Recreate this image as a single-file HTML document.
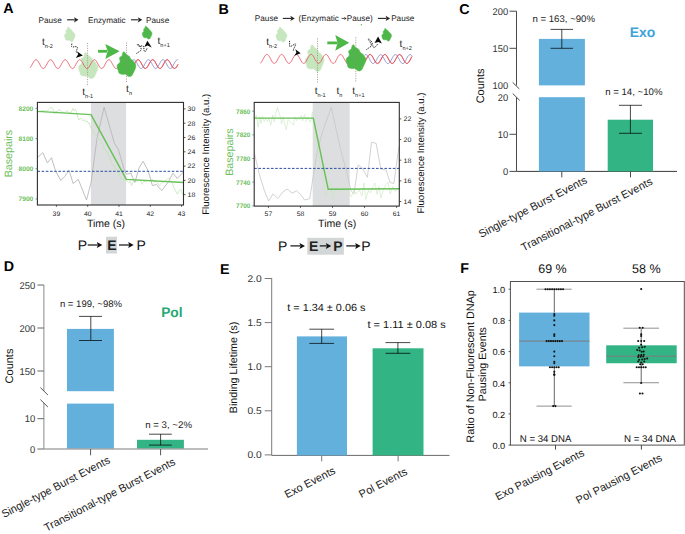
<!DOCTYPE html>
<html><head><meta charset="utf-8"><style>
html,body{margin:0;padding:0;background:#fff;width:685px;height:534px;overflow:hidden}
svg{display:block;font-family:"Liberation Sans", sans-serif;text-rendering:geometricPrecision}
</style></head><body>
<svg width="685" height="534" viewBox="0 0 685 534">
<rect width="685" height="534" fill="#fff"/>
<text x="8.30" y="12.60" font-size="14.3" fill="#000" text-anchor="middle" font-weight="bold" >A</text>
<text x="223.70" y="13.60" font-size="14.3" fill="#000" text-anchor="middle" font-weight="bold" >B</text>
<text x="464.40" y="13.80" font-size="14.3" fill="#000" text-anchor="middle" font-weight="bold" >C</text>
<text x="8.90" y="270.50" font-size="14.3" fill="#000" text-anchor="middle" font-weight="bold" >D</text>
<text x="224.80" y="273.90" font-size="14.3" fill="#000" text-anchor="middle" font-weight="bold" >E</text>
<text x="464.60" y="273.20" font-size="14.3" fill="#000" text-anchor="middle" font-weight="bold" >F</text>
<text x="50.15" y="22.70" font-size="8.2" fill="#1a1a1a" text-anchor="middle" font-weight="normal" >Pause</text>
<line x1="67.10" y1="19.80" x2="74.80" y2="19.80" stroke="#222" stroke-width="1.1" />
<path d="M78.5,19.8 L74.0,17.2 L75.0,19.8 L74.0,22.4Z" fill="#222"/>
<text x="106.85" y="22.70" font-size="8.2" fill="#1a1a1a" text-anchor="middle" font-weight="normal" >Enzymatic</text>
<line x1="131.00" y1="19.80" x2="138.60" y2="19.80" stroke="#222" stroke-width="1.1" />
<path d="M142.3,19.8 L137.8,17.2 L138.8,19.8 L137.8,22.4Z" fill="#222"/>
<text x="157.65" y="22.70" font-size="8.2" fill="#1a1a1a" text-anchor="middle" font-weight="normal" >Pause</text>
<path d="M68.4,27.0 Q68.8,27.2 69.0,27.6 Q69.4,28.0 69.5,28.7 Q70.2,28.7 70.6,29.2 Q71.2,29.4 71.5,29.9 Q71.9,30.4 71.9,31.0 Q72.4,31.2 72.6,31.7 Q73.2,31.8 73.5,32.2 Q74.0,32.7 74.1,33.3 Q74.6,33.6 74.8,34.2 Q75.2,35.0 75.0,35.9 Q75.0,36.5 74.7,36.9 Q74.6,37.7 74.1,38.2 Q74.0,39.0 73.5,39.5 Q73.5,40.2 73.0,40.8 Q72.6,41.3 71.9,41.5 Q71.2,41.6 70.6,41.3 Q70.1,41.1 69.9,40.6 Q69.5,40.4 69.3,40.0 Q68.7,40.3 68.0,40.2 Q67.4,40.3 66.8,40.0 Q66.1,40.0 65.7,39.5 Q65.2,38.8 65.3,38.0 Q64.8,37.4 64.8,36.6 Q64.4,35.9 64.6,35.1 Q64.6,34.7 64.9,34.4 Q65.3,33.9 65.9,33.7 Q65.9,33.1 66.4,32.6 Q65.9,31.9 66.0,31.1 Q65.8,30.8 65.9,30.5 Q66.2,30.0 66.8,29.9 Q67.0,29.3 67.5,29.0 Q67.4,28.4 67.7,27.9 Q67.7,27.5 68.0,27.2 Q68.2,27.0 68.4,27.0Z" fill="#c6e6be" stroke="#c6e6be" stroke-width="0.6" stroke-linejoin="round"/>
<path d="M85.7,52.7 Q86.4,53.0 86.8,53.7 Q87.6,54.5 87.8,55.6 Q89.0,55.7 89.8,56.5 Q90.8,56.9 91.4,57.8 Q92.1,58.7 92.1,59.8 Q93.0,60.2 93.5,61.1 Q94.4,61.2 95.1,62.0 Q95.9,62.7 96.1,63.9 Q97.1,64.4 97.5,65.5 Q98.2,66.9 97.8,68.4 Q97.8,69.5 97.2,70.3 Q97.1,71.6 96.1,72.6 Q96.0,73.9 95.1,74.9 Q95.0,76.2 94.1,77.1 Q93.4,78.1 92.1,78.4 Q90.9,78.6 89.8,78.0 Q88.9,77.6 88.5,76.8 Q87.7,76.5 87.4,75.8 Q86.3,76.4 85.1,76.1 Q83.9,76.3 82.8,75.8 Q81.6,75.7 80.8,74.9 Q80.0,73.7 80.1,72.3 Q79.1,71.2 79.1,69.7 Q78.5,68.5 78.8,67.1 Q78.9,66.3 79.4,65.8 Q80.1,64.9 81.1,64.6 Q81.2,63.5 82.0,62.7 Q81.3,61.5 81.4,60.1 Q81.1,59.5 81.1,58.8 Q81.8,58.0 82.8,57.8 Q83.2,56.8 84.2,56.2 Q84.0,55.2 84.5,54.3 Q84.5,53.6 85.1,53.0 Q85.4,52.7 85.7,52.7Z" fill="#c6e6be" stroke="#c6e6be" stroke-width="0.6" stroke-linejoin="round"/>
<polyline points="30.0,67.8 30.5,67.3 31.0,66.5 31.5,65.7 32.0,64.8 32.5,63.8 33.0,62.9 33.5,62.0 34.0,61.3 34.5,60.6 35.0,60.1 35.5,59.8 36.0,59.7 36.5,59.8 37.0,60.1 37.5,60.6 38.0,61.2 38.5,62.0 39.0,62.8 39.5,63.8 40.0,64.7 40.5,65.6 41.0,66.5 41.5,67.2 42.0,67.8 42.5,68.2 43.0,68.5 43.5,68.5 44.0,68.3 44.5,68.0 44.9,67.4 45.4,66.7 45.9,65.9 46.4,65.0 46.9,64.1 47.4,63.1 47.9,62.3 48.4,61.4 48.9,60.8 49.4,60.2 49.9,59.9 50.4,59.7 50.9,59.7 51.4,60.0 51.9,60.4 52.4,61.0 52.9,61.8 53.4,62.6 53.9,63.5 54.4,64.5 54.9,65.4 55.4,66.3 55.9,67.0 56.4,67.7 56.9,68.1 57.4,68.4 57.9,68.5 58.4,68.4 58.9,68.1 59.4,67.6 59.9,66.9 60.4,66.1 60.9,65.3 61.4,64.3 61.9,63.4 62.4,62.5 62.9,61.6 63.4,60.9 63.9,60.3 64.4,59.9 64.9,59.7 65.4,59.7 65.9,59.9 66.4,60.3 66.9,60.8 67.4,61.6 67.9,62.4 68.4,63.3 68.9,64.2 69.4,65.2 69.9,66.0 70.4,66.8 70.9,67.5 71.4,68.0 71.9,68.4 72.4,68.5 72.9,68.4 73.4,68.2 73.9,67.7 74.4,67.1 74.8,66.4 75.3,65.5 75.8,64.6 76.3,63.6 76.8,62.7 77.3,61.9 77.8,61.1 78.3,60.5 78.8,60.0 79.3,59.8 79.8,59.7 80.3,59.8 80.8,60.2 81.3,60.7 81.8,61.4 82.3,62.2 82.8,63.0 83.3,64.0 83.8,64.9 84.3,65.8 84.8,66.6 85.3,67.3 85.8,67.9 86.3,68.3 86.8,68.5 87.3,68.5 87.8,68.3 88.3,67.9 88.8,67.3 89.3,66.6 89.8,65.7 90.3,64.8 90.8,63.9 91.3,62.9 91.8,62.1 92.3,61.3 92.8,60.6 93.3,60.1 93.8,59.8 94.3,59.7 94.8,59.8 95.3,60.1 95.8,60.5 96.3,61.2 96.8,61.9 97.3,62.8 97.8,63.7 98.3,64.7 98.8,65.6 99.3,66.4 99.8,67.2 100.3,67.8 100.8,68.2 101.3,68.4 101.8,68.5 102.3,68.3 102.8,68.0 103.3,67.4 103.8,66.8 104.2,65.9 104.7,65.1 105.2,64.1 105.7,63.2 106.2,62.3 106.7,61.5 107.2,60.8 107.7,60.2 108.2,59.9 108.7,59.7 109.2,59.7 109.7,60.0 110.2,60.4 110.7,61.0 111.2,61.7 111.7,62.6 112.2,63.5 112.7,64.4 113.2,65.4 113.7,66.2 114.2,67.0 114.7,67.6 115.2,68.1 115.7,68.4 116.2,68.5 116.7,68.4 117.2,68.1 117.7,67.6 118.2,66.9 118.7,66.2 119.2,65.3 119.7,64.4 120.2,63.4 120.7,62.5 121.2,61.7 121.7,60.9 122.2,60.4 122.7,60.0 123.2,59.7 123.7,59.7 124.2,59.9 124.7,60.3 125.2,60.8 125.7,61.5 126.2,62.3 126.7,63.2 127.2,64.2 127.7,65.1 128.2,66.0 128.7,66.8 129.2,67.5 129.7,68.0 130.2,68.3 130.7,68.5 131.2,68.4 131.7,68.2 132.2,67.7 132.7,67.1 133.2,66.4 133.6,65.5 134.1,64.6 134.6,63.7 135.1,62.7 135.6,61.9 136.1,61.1 136.6,60.5 137.1,60.0 137.6,59.8 138.1,59.7 138.6,59.8 139.1,60.2 139.6,60.7 140.1,61.3 140.6,62.1 141.1,63.0 141.6,63.9 142.1,64.9 142.6,65.8 143.1,66.6 143.6,67.3 144.1,67.9 144.6,68.3 145.1,68.5 145.6,68.5 146.1,68.3 146.6,67.9 147.1,67.3 147.6,66.6 148.1,65.8 148.6,64.8 149.1,63.9 149.6,63.0 150.1,62.1 150.6,61.3 151.1,60.6 151.6,60.1 152.1,59.8 152.6,59.7 153.1,59.8 153.6,60.1 154.1,60.5 154.6,61.1 155.1,61.9 155.6,62.8 156.1,63.7 156.6,64.6 157.1,65.6 157.6,66.4 158.1,67.2 158.6,67.8 159.1,68.2 159.6,68.4 160.1,68.5 160.6,68.3 161.1,68.0 161.6,67.5 162.1,66.8 162.6,66.0 163.1,65.1 163.5,64.1 164.0,63.2 164.5,62.3 165.0,61.5 165.5,60.8 166.0,60.3 166.5,59.9 167.0,59.7 167.5,59.7 168.0,60.0 168.5,60.4 169.0,61.0 169.5,61.7 170.0,62.5 170.5,63.5 171.0,64.4 171.5,65.3 172.0,66.2 172.5,67.0 173.0,67.6 173.5,68.1 174.0,68.4 174.5,68.5 175.0,68.4 175.5,68.1 176.0,67.6 176.5,67.0 177.0,66.2 177.5,65.3 178.0,64.4" fill="none" stroke="#e4525f" stroke-width="0.85" stroke-linejoin="round" opacity="1"/>
<polyline points="133.0,60.0 133.5,59.8 134.0,59.7 134.5,59.9 135.0,60.2 135.5,60.7 136.0,61.4 136.5,62.2 137.0,63.1 137.5,64.0 137.9,64.9 138.4,65.8 138.9,66.6 139.4,67.3 139.9,67.9 140.4,68.3 140.9,68.5 141.4,68.5 141.9,68.3 142.4,67.9 142.9,67.3 143.4,66.6 143.9,65.8 144.4,64.9 144.9,64.0 145.4,63.0 145.9,62.2 146.4,61.4 146.8,60.7 147.3,60.2 147.8,59.8 148.3,59.7 148.8,59.8 149.3,60.0 149.8,60.4 150.3,61.0 150.8,61.8 151.3,62.6 151.8,63.5 152.3,64.5 152.8,65.4 153.3,66.3 153.8,67.0 154.3,67.7 154.8,68.1 155.3,68.4 155.7,68.5 156.2,68.4 156.7,68.1 157.2,67.6 157.7,67.0 158.2,66.2 158.7,65.3 159.2,64.4 159.7,63.5 160.2,62.6 160.7,61.7 161.2,61.0 161.7,60.4 162.2,60.0 162.7,59.7 163.2,59.7 163.7,59.9 164.2,60.2 164.6,60.7 165.1,61.4 165.6,62.2 166.1,63.1 166.6,64.0 167.1,65.0 167.6,65.9 168.1,66.7 168.6,67.4 169.1,67.9 169.6,68.3 170.1,68.5 170.6,68.5 171.1,68.3 171.6,67.9 172.1,67.3 172.6,66.6 173.1,65.8 173.5,64.9 174.0,63.9 174.5,63.0 175.0,62.1 175.5,61.3 176.0,60.7 176.5,60.2 177.0,59.8 177.5,59.7 178.0,59.8" fill="none" stroke="#6f76bd" stroke-width="0.85" stroke-linejoin="round" opacity="0.85"/>
<polyline points="133.0,66.6 133.5,65.8 134.0,64.9 134.5,64.0 135.0,63.0 135.5,62.2 136.0,61.4 136.5,60.7 137.0,60.2 137.5,59.9 137.9,59.7 138.4,59.8 138.9,60.0 139.4,60.4 139.9,61.0 140.4,61.8 140.9,62.6 141.4,63.5 141.9,64.5 142.4,65.4 142.9,66.3 143.4,67.0 143.9,67.6 144.4,68.1 144.9,68.4 145.4,68.5 145.9,68.4 146.4,68.1 146.8,67.6 147.3,67.0 147.8,66.2 148.3,65.3 148.8,64.4 149.3,63.5 149.8,62.6 150.3,61.7 150.8,61.0 151.3,60.4 151.8,60.0 152.3,59.8 152.8,59.7 153.3,59.9 153.8,60.2 154.3,60.7 154.8,61.4 155.3,62.2 155.7,63.1 156.2,64.0 156.7,65.0 157.2,65.8 157.7,66.7 158.2,67.4 158.7,67.9 159.2,68.3 159.7,68.5 160.2,68.5 160.7,68.3 161.2,67.9 161.7,67.3 162.2,66.6 162.7,65.8 163.2,64.9 163.7,63.9 164.2,63.0 164.6,62.1 165.1,61.3 165.6,60.7 166.1,60.2 166.6,59.8 167.1,59.7 167.6,59.8 168.1,60.0 168.6,60.5 169.1,61.1 169.6,61.8 170.1,62.7 170.6,63.6 171.1,64.5 171.6,65.4 172.1,66.3 172.6,67.0 173.1,67.7 173.5,68.1 174.0,68.4 174.5,68.5 175.0,68.4 175.5,68.1 176.0,67.6 176.5,67.0 177.0,66.2 177.5,65.3 178.0,64.4" fill="none" stroke="#e4525f" stroke-width="0.85" stroke-linejoin="round" opacity="1"/>
<path d="M124.0,51.8 Q124.6,52.1 125.0,52.8 Q125.8,53.5 126.0,54.6 Q127.1,54.7 127.9,55.5 Q128.9,55.8 129.5,56.7 Q130.2,57.5 130.2,58.6 Q131.1,59.0 131.5,59.8 Q132.4,60.0 133.0,60.7 Q133.9,61.4 134.1,62.5 Q135.0,63.1 135.4,64.1 Q136.0,65.5 135.7,66.9 Q135.7,67.9 135.1,68.7 Q135.0,70.0 134.1,70.9 Q134.0,72.2 133.0,73.1 Q133.0,74.3 132.1,75.2 Q131.4,76.2 130.2,76.5 Q129.0,76.7 127.9,76.1 Q127.1,75.8 126.6,74.9 Q125.9,74.6 125.6,74.0 Q124.5,74.5 123.3,74.3 Q122.2,74.5 121.1,74.0 Q120.0,73.9 119.1,73.1 Q118.3,72.0 118.4,70.6 Q117.5,69.5 117.5,68.2 Q116.9,67.0 117.2,65.7 Q117.3,64.9 117.8,64.4 Q118.4,63.5 119.5,63.2 Q119.6,62.1 120.4,61.4 Q119.6,60.2 119.8,58.9 Q119.4,58.3 119.5,57.7 Q120.1,56.9 121.1,56.7 Q121.5,55.7 122.4,55.2 Q122.2,54.2 122.7,53.4 Q122.8,52.6 123.3,52.1 Q123.6,51.8 124.0,51.8Z" fill="#4db749" stroke="#4db749" stroke-width="0.6" stroke-linejoin="round"/>
<path d="M145.9,26.1 Q146.2,26.3 146.4,26.6 Q146.8,27.0 146.9,27.6 Q147.5,27.6 147.9,28.0 Q148.4,28.2 148.7,28.7 Q149.1,29.1 149.1,29.6 Q149.5,29.8 149.7,30.3 Q150.2,30.3 150.5,30.7 Q151.0,31.1 151.1,31.7 Q151.5,31.9 151.7,32.5 Q152.1,33.2 151.9,33.9 Q151.9,34.5 151.6,34.9 Q151.5,35.5 151.1,36.0 Q151.0,36.7 150.5,37.1 Q150.5,37.8 150.1,38.2 Q149.7,38.8 149.1,38.9 Q148.5,39.0 147.9,38.7 Q147.5,38.5 147.2,38.1 Q146.9,37.9 146.7,37.6 Q146.2,37.9 145.5,37.7 Q144.9,37.9 144.4,37.6 Q143.8,37.5 143.4,37.1 Q143.0,36.6 143.0,35.8 Q142.6,35.3 142.6,34.6 Q142.2,34.0 142.4,33.3 Q142.4,32.9 142.7,32.6 Q143.0,32.2 143.6,32.0 Q143.6,31.5 144.0,31.1 Q143.6,30.5 143.7,29.8 Q143.5,29.5 143.6,29.2 Q143.9,28.8 144.4,28.7 Q144.6,28.1 145.1,27.9 Q145.0,27.4 145.2,26.9 Q145.3,26.5 145.5,26.3 Q145.7,26.1 145.9,26.1Z" fill="#4db749" stroke="#4db749" stroke-width="0.6" stroke-linejoin="round"/>
<line x1="87.60" y1="43.00" x2="87.60" y2="86.30" stroke="#a08878" stroke-width="0.8" stroke-dasharray="1.1 1.3"/>
<line x1="126.50" y1="42.50" x2="126.50" y2="82.80" stroke="#a08878" stroke-width="0.8" stroke-dasharray="1.1 1.3"/>
<line x1="98.00" y1="51.30" x2="107.00" y2="51.30" stroke="#4db848" stroke-width="2.8" />
<path d="M119.6,51.2 L105.3,43.9 L107.6,51.2 L105.3,59Z" fill="#4db848"/>
<path d="M71.8,43.6 L71.6,46.5 C72.5,48 76,45.5 77.3,47.2 C78,48.8 75.5,50.5 76.5,52.5" fill="none" stroke="#1a1a1a" stroke-width="0.95" stroke-dasharray="1.3 0.9"/>
<path d="M82.9,55.4 L76.9,51.3 L78.2,54.3 L75.8,58.0Z" fill="#0a0a0a"/>
<path d="M136.4,53.5 L140.5,50.8 C142.5,49 139.5,44.5 137.6,44.2 C136.4,44.5 139,47.5 142.3,45.6 C144.8,46 143.2,51 144.8,51.6 C146.2,51.5 146.8,49.5 147,48" fill="none" stroke="#1a1a1a" stroke-width="0.95" stroke-dasharray="1.3 0.9"/>
<path d="M147.4,40.8 L151.8,47.5 L147.5,45.6 L144.3,47.1Z" fill="#0a0a0a"/>
<text x="42" y="45" font-size="10.2" fill="#222">t<tspan font-size="5.6" dy="2.8">n-2</tspan></text>
<text x="82.2" y="94.9" font-size="10.2" fill="#222">t<tspan font-size="5.6" dy="2.8">n-1</tspan></text>
<text x="126.1" y="91.9" font-size="10.2" fill="#222">t<tspan font-size="5.6" dy="2.8">n</tspan></text>
<text x="157.5" y="43.9" font-size="10.2" fill="#222">t<tspan font-size="5.6" dy="2.8">n+1</tspan></text>
<rect x="90.90" y="102.40" width="35.20" height="102.60" fill="#dcdee0" />
<polyline points="37.4,157.7 42.8,152.6 47.4,162.9 51.5,157.7 55.6,171.1 60.8,180.4 64.9,176.3 69.0,170.1 73.1,183.5 78.3,179.4 86.5,200.0 91.1,182.5 96.9,139.2 104.1,107.2 110.3,128.9 114.4,143.3 118.4,149.5 124.6,171.1 126.6,174.2 130.8,173.2 134.9,182.5 139.0,168.0 143.1,161.2 148.3,171.1 152.4,185.6 156.5,184.5 161.7,190.7 167.9,182.5 173.0,173.2 177.2,178.4 183.4,172.2" fill="none" stroke="#b8b8b8" stroke-width="0.9" stroke-linejoin="round" />
<polyline points="37.9,111.4 39.6,111.8 41.4,110.9 43.1,110.5 44.9,111.2 46.6,110.9 47.9,110.1 49.7,108.3 51.4,107.0 53.2,110.1 54.5,114.0 55.8,111.4 57.6,111.8 59.3,109.2 61.1,111.4 62.8,112.3 65.0,112.3 67.2,110.5 69.0,113.1 70.3,114.0 71.6,111.4 72.9,108.3 74.2,110.9 75.5,109.2 76.8,112.3 77.7,117.1 79.0,120.1 80.3,118.4 81.7,118.8 83.0,121.0 84.7,119.7 86.0,121.9 87.4,121.0 88.7,123.6 89.5,122.8 90.4,127.1 91.7,128.9 93.9,132.9 96.0,134.5 97.9,138.1 99.8,139.5 101.8,143.3 103.0,144.5 104.4,148.6 106.3,150.5 108.3,155.1 110.0,158.5 111.6,163.0 113.2,165.0 114.9,168.2 116.5,169.0 118.2,170.9 119.5,175.0 120.8,178.7 122.5,178.5 124.1,180.0 125.5,180.3 126.8,180.8 128.5,182.5 130.3,181.2 131.6,185.6 132.9,182.1 134.6,180.3 136.4,181.2 138.1,180.8 140.3,179.9 142.1,184.3 143.8,181.2 146.0,182.1 147.8,180.3 150.0,180.8 152.1,179.0 153.9,182.1 155.6,181.6 157.8,183.0 159.2,185.6 160.9,183.4 162.7,182.1 164.8,181.2 167.0,179.4 168.8,178.1 170.5,180.3 172.3,182.1 173.6,187.3 175.4,190.4 177.5,194.3 179.3,190.4 181.0,189.5 182.8,194.8" fill="none" stroke="#bfe2b2" stroke-width="0.7" stroke-linejoin="round" />
<polyline points="37.4,111.4 91.0,114.6 126.3,179.4 183.5,182.5" fill="none" stroke="#66c055" stroke-width="1.4" stroke-linejoin="round" />
<line x1="37.40" y1="171.30" x2="183.50" y2="171.30" stroke="#2b4fa3" stroke-width="1" stroke-dasharray="2.6 1.6"/>
<rect x="37.4" y="102.4" width="146.1" height="102.6" fill="none" stroke="#2e2e2e" stroke-width="1.1"/>
<line x1="35.60" y1="108.40" x2="37.40" y2="108.40" stroke="#666" stroke-width="0.8" />
<text x="33.30" y="110.75" font-size="6.6" fill="#6cc05c" text-anchor="end" font-weight="bold" textLength="14.8" lengthAdjust="spacingAndGlyphs" >8200</text>
<line x1="35.60" y1="138.58" x2="37.40" y2="138.58" stroke="#666" stroke-width="0.8" />
<text x="33.30" y="140.93" font-size="6.6" fill="#6cc05c" text-anchor="end" font-weight="bold" textLength="14.8" lengthAdjust="spacingAndGlyphs" >8100</text>
<line x1="35.60" y1="168.76" x2="37.40" y2="168.76" stroke="#666" stroke-width="0.8" />
<text x="33.30" y="171.11" font-size="6.6" fill="#6cc05c" text-anchor="end" font-weight="bold" textLength="14.8" lengthAdjust="spacingAndGlyphs" >8000</text>
<line x1="35.60" y1="198.94" x2="37.40" y2="198.94" stroke="#666" stroke-width="0.8" />
<text x="33.30" y="201.29" font-size="6.6" fill="#6cc05c" text-anchor="end" font-weight="bold" textLength="14.8" lengthAdjust="spacingAndGlyphs" >7900</text>
<line x1="183.50" y1="108.90" x2="185.50" y2="108.90" stroke="#2e2e2e" stroke-width="0.8" />
<text x="187.60" y="111.25" font-size="6.6" fill="#222" text-anchor="start" font-weight="normal" textLength="7.8" lengthAdjust="spacingAndGlyphs" >30</text>
<line x1="183.50" y1="123.20" x2="185.50" y2="123.20" stroke="#2e2e2e" stroke-width="0.8" />
<text x="187.60" y="125.55" font-size="6.6" fill="#222" text-anchor="start" font-weight="normal" textLength="7.8" lengthAdjust="spacingAndGlyphs" >28</text>
<line x1="183.50" y1="137.50" x2="185.50" y2="137.50" stroke="#2e2e2e" stroke-width="0.8" />
<text x="187.60" y="139.85" font-size="6.6" fill="#222" text-anchor="start" font-weight="normal" textLength="7.8" lengthAdjust="spacingAndGlyphs" >26</text>
<line x1="183.50" y1="151.80" x2="185.50" y2="151.80" stroke="#2e2e2e" stroke-width="0.8" />
<text x="187.60" y="154.15" font-size="6.6" fill="#222" text-anchor="start" font-weight="normal" textLength="7.8" lengthAdjust="spacingAndGlyphs" >24</text>
<line x1="183.50" y1="166.10" x2="185.50" y2="166.10" stroke="#2e2e2e" stroke-width="0.8" />
<text x="187.60" y="168.45" font-size="6.6" fill="#222" text-anchor="start" font-weight="normal" textLength="7.8" lengthAdjust="spacingAndGlyphs" >22</text>
<line x1="183.50" y1="180.40" x2="185.50" y2="180.40" stroke="#2e2e2e" stroke-width="0.8" />
<text x="187.60" y="182.75" font-size="6.6" fill="#222" text-anchor="start" font-weight="normal" textLength="7.8" lengthAdjust="spacingAndGlyphs" >20</text>
<line x1="183.50" y1="194.70" x2="185.50" y2="194.70" stroke="#2e2e2e" stroke-width="0.8" />
<text x="187.60" y="197.05" font-size="6.6" fill="#222" text-anchor="start" font-weight="normal" textLength="7.8" lengthAdjust="spacingAndGlyphs" >18</text>
<line x1="56.40" y1="205.00" x2="56.40" y2="206.80" stroke="#2e2e2e" stroke-width="0.8" />
<text x="56.40" y="216.30" font-size="6.6" fill="#222" text-anchor="middle" font-weight="normal" textLength="7.6" lengthAdjust="spacingAndGlyphs" >39</text>
<line x1="87.70" y1="205.00" x2="87.70" y2="206.80" stroke="#2e2e2e" stroke-width="0.8" />
<text x="87.70" y="216.30" font-size="6.6" fill="#222" text-anchor="middle" font-weight="normal" textLength="7.6" lengthAdjust="spacingAndGlyphs" >40</text>
<line x1="119.00" y1="205.00" x2="119.00" y2="206.80" stroke="#2e2e2e" stroke-width="0.8" />
<text x="119.00" y="216.30" font-size="6.6" fill="#222" text-anchor="middle" font-weight="normal" textLength="7.6" lengthAdjust="spacingAndGlyphs" >41</text>
<line x1="150.30" y1="205.00" x2="150.30" y2="206.80" stroke="#2e2e2e" stroke-width="0.8" />
<text x="150.30" y="216.30" font-size="6.6" fill="#222" text-anchor="middle" font-weight="normal" textLength="7.6" lengthAdjust="spacingAndGlyphs" >42</text>
<line x1="181.60" y1="205.00" x2="181.60" y2="206.80" stroke="#2e2e2e" stroke-width="0.8" />
<text x="181.60" y="216.30" font-size="6.6" fill="#222" text-anchor="middle" font-weight="normal" textLength="7.6" lengthAdjust="spacingAndGlyphs" >43</text>
<text x="106.00" y="226.60" font-size="10.5" fill="#111" text-anchor="middle" font-weight="normal" textLength="38.2" lengthAdjust="spacingAndGlyphs" >Time (s)</text>
<text transform="translate(12.3,153.6) rotate(-90)" font-size="10.7" fill="#6cc05c" text-anchor="middle">Basepairs</text>
<text transform="translate(208.6,154.25) rotate(-90)" font-size="9.6" fill="#111" text-anchor="middle">Fluorescence Intensity (a.u.)</text>
<rect x="106.00" y="236.70" width="11.00" height="16.80" fill="#d3d6d6" />
<text x="82.40" y="249.50" font-size="14" fill="#111" text-anchor="middle" font-weight="normal" >P</text>
<line x1="87.70" y1="245.00" x2="97.60" y2="245.00" stroke="#111" stroke-width="1.2" />
<path d="M102.3,245.0 L96.8,242.0 L97.8,245.0 L96.8,248.0Z" fill="#111"/>
<text x="111.90" y="249.50" font-size="14" fill="#222" text-anchor="middle" font-weight="bold" >E</text>
<line x1="119.00" y1="245.00" x2="129.00" y2="245.00" stroke="#111" stroke-width="1.2" />
<path d="M133.7,245.0 L128.2,242.0 L129.2,245.0 L128.2,248.0Z" fill="#111"/>
<text x="141.20" y="249.50" font-size="14" fill="#111" text-anchor="middle" font-weight="normal" >P</text>
<text x="266.45" y="21.30" font-size="8.2" fill="#1a1a1a" text-anchor="middle" font-weight="normal" >Pause</text>
<line x1="282.80" y1="18.40" x2="291.10" y2="18.40" stroke="#222" stroke-width="1.1" />
<path d="M294.8,18.4 L290.3,15.8 L291.3,18.4 L290.3,21.0Z" fill="#222"/>
<text x="318.70" y="21.30" font-size="8.2" fill="#1a1a1a" text-anchor="middle" font-weight="normal" >(Enzymatic</text>
<line x1="341.60" y1="18.40" x2="344.70" y2="18.40" stroke="#222" stroke-width="0.8" />
<path d="M346.7,18.4 L343.9,16.7 L344.9,18.4 L343.9,20.1Z" fill="#222"/>
<text x="359.70" y="21.30" font-size="8.2" fill="#1a1a1a" text-anchor="middle" font-weight="normal" >Pause)</text>
<line x1="377.90" y1="18.40" x2="386.40" y2="18.40" stroke="#222" stroke-width="1.1" />
<path d="M390.1,18.4 L385.6,15.8 L386.6,18.4 L385.6,21.0Z" fill="#222"/>
<text x="402.75" y="21.30" font-size="8.2" fill="#1a1a1a" text-anchor="middle" font-weight="normal" >Pause</text>
<path d="M280.0,27.0 Q280.4,27.2 280.6,27.6 Q281.1,28.0 281.2,28.7 Q281.9,28.8 282.4,29.2 Q282.9,29.4 283.3,30.0 Q283.7,30.5 283.7,31.1 Q284.2,31.3 284.4,31.8 Q285.0,31.9 285.3,32.4 Q285.8,32.8 285.9,33.5 Q286.5,33.8 286.7,34.4 Q287.1,35.2 286.9,36.1 Q286.9,36.7 286.5,37.2 Q286.5,38.0 285.9,38.5 Q285.9,39.3 285.3,39.9 Q285.3,40.6 284.8,41.1 Q284.4,41.7 283.7,41.9 Q283.0,42.0 282.4,41.7 Q281.8,41.5 281.6,41.0 Q281.2,40.8 281.0,40.4 Q280.4,40.7 279.7,40.6 Q279.0,40.7 278.4,40.4 Q277.7,40.3 277.2,39.9 Q276.7,39.2 276.8,38.3 Q276.3,37.7 276.3,36.9 Q275.9,36.2 276.1,35.4 Q276.1,34.9 276.5,34.6 Q276.8,34.1 277.4,33.9 Q277.5,33.2 277.9,32.8 Q277.5,32.1 277.6,31.3 Q277.4,30.9 277.4,30.6 Q277.8,30.1 278.4,30.0 Q278.6,29.4 279.1,29.0 Q279.0,28.5 279.3,27.9 Q279.4,27.5 279.7,27.2 Q279.8,27.0 280.0,27.0Z" fill="#c6e6be" stroke="#c6e6be" stroke-width="0.6" stroke-linejoin="round"/>
<path d="M312.2,44.7 Q312.9,45.1 313.2,45.8 Q314.0,46.6 314.2,47.7 Q315.3,47.9 316.1,48.7 Q317.1,49.1 317.6,50.0 Q318.3,50.9 318.3,52.0 Q319.2,52.4 319.6,53.3 Q320.6,53.6 321.2,54.3 Q322.0,55.1 322.2,56.3 Q323.1,56.9 323.5,57.9 Q324.2,59.4 323.8,61.0 Q323.9,62.1 323.2,62.9 Q323.1,64.3 322.2,65.3 Q322.1,66.6 321.2,67.7 Q321.1,69.0 320.3,69.9 Q319.6,71.0 318.3,71.3 Q317.2,71.5 316.1,70.9 Q315.2,70.5 314.8,69.6 Q314.1,69.3 313.8,68.6 Q312.7,69.1 311.6,68.9 Q310.4,69.1 309.3,68.6 Q308.2,68.5 307.4,67.7 Q306.6,66.4 306.7,64.9 Q305.8,63.8 305.8,62.3 Q305.2,61.0 305.5,59.6 Q305.6,58.8 306.1,58.3 Q306.7,57.3 307.7,57.0 Q307.8,55.9 308.6,55.0 Q307.8,53.8 308.0,52.3 Q307.7,51.7 307.7,51.1 Q308.4,50.2 309.3,50.0 Q309.7,48.9 310.7,48.3 Q310.5,47.3 311.0,46.4 Q311.0,45.6 311.6,45.0 Q311.8,44.7 312.2,44.7Z" fill="#c6e6be" stroke="#c6e6be" stroke-width="0.6" stroke-linejoin="round"/>
<polyline points="260.3,63.2 260.8,62.8 261.3,62.2 261.8,61.5 262.3,60.6 262.8,59.7 263.3,58.7 263.8,57.8 264.3,56.9 264.8,56.1 265.3,55.4 265.8,54.9 266.3,54.6 266.8,54.4 267.3,54.5 267.8,54.7 268.3,55.2 268.8,55.8 269.3,56.5 269.8,57.4 270.3,58.3 270.8,59.3 271.3,60.2 271.8,61.1 272.3,61.9 272.8,62.5 273.3,63.0 273.8,63.3 274.3,63.4 274.8,63.3 275.3,63.0 275.8,62.5 276.3,61.9 276.8,61.1 277.3,60.2 277.8,59.3 278.3,58.3 278.8,57.4 279.3,56.5 279.8,55.8 280.3,55.2 280.8,54.7 281.3,54.5 281.8,54.4 282.3,54.6 282.8,54.9 283.3,55.4 283.8,56.1 284.3,56.9 284.8,57.8 285.3,58.8 285.7,59.7 286.2,60.6 286.7,61.5 287.2,62.2 287.7,62.8 288.2,63.2 288.7,63.4 289.2,63.4 289.7,63.2 290.2,62.8 290.7,62.2 291.2,61.5 291.7,60.7 292.2,59.8 292.7,58.8 293.2,57.9 293.7,57.0 294.2,56.2 294.7,55.5 295.2,54.9 295.7,54.6 296.2,54.4 296.7,54.4 297.2,54.7 297.7,55.1 298.2,55.7 298.7,56.5 299.2,57.3 299.7,58.2 300.2,59.2 300.7,60.1 301.2,61.0 301.7,61.8 302.2,62.5 302.7,63.0 303.2,63.3 303.7,63.4 304.2,63.3 304.7,63.0 305.2,62.6 305.7,61.9 306.2,61.1 306.7,60.3 307.2,59.3 307.7,58.4 308.2,57.4 308.7,56.6 309.2,55.8 309.7,55.2 310.2,54.7 310.7,54.5 311.2,54.4 311.7,54.5 312.2,54.9 312.7,55.4 313.2,56.0 313.7,56.8 314.2,57.7 314.7,58.7 315.2,59.6 315.7,60.6 316.2,61.4 316.7,62.1 317.2,62.7 317.7,63.1 318.2,63.4 318.7,63.4 319.2,63.2 319.7,62.8 320.2,62.3 320.7,61.6 321.2,60.8 321.7,59.8 322.2,58.9 322.7,57.9 323.2,57.0 323.7,56.2 324.2,55.5 324.7,55.0 325.2,54.6 325.7,54.4 326.2,54.4 326.7,54.7 327.2,55.1 327.7,55.7 328.2,56.4 328.7,57.3 329.2,58.2 329.7,59.1 330.2,60.1 330.7,61.0 331.2,61.8 331.7,62.4 332.2,62.9 332.7,63.3 333.2,63.4 333.7,63.3 334.2,63.1 334.7,62.6 335.2,62.0 335.7,61.2 336.1,60.3 336.6,59.4 337.1,58.5 337.6,57.5 338.1,56.6 338.6,55.9 339.1,55.2 339.6,54.8 340.1,54.5 340.6,54.4 341.1,54.5 341.6,54.8 342.1,55.3 342.6,56.0 343.1,56.8 343.6,57.7 344.1,58.6 344.6,59.6 345.1,60.5 345.6,61.3 346.1,62.1 346.6,62.7 347.1,63.1 347.6,63.4 348.1,63.4 348.6,63.2 349.1,62.9 349.6,62.3 350.1,61.6 350.6,60.8 351.1,59.9 351.6,59.0 352.1,58.0 352.6,57.1 353.1,56.3 353.6,55.6 354.1,55.0 354.6,54.6 355.1,54.4 355.6,54.4 356.1,54.6 356.6,55.0 357.1,55.6 357.6,56.3 358.1,57.2 358.6,58.1 359.1,59.1 359.6,60.0 360.1,60.9 360.6,61.7 361.1,62.4 361.6,62.9 362.1,63.2 362.6,63.4 363.1,63.3 363.6,63.1 364.1,62.6 364.6,62.0 365.1,61.3 365.6,60.4 366.1,59.5 366.6,58.5 367.1,57.6 367.6,56.7 368.1,55.9 368.6,55.3 369.1,54.8 369.6,54.5 370.1,54.4 370.6,54.5 371.1,54.8 371.6,55.3 372.1,55.9 372.6,56.7 373.1,57.6 373.6,58.5 374.1,59.5 374.6,60.4 375.1,61.3 375.6,62.0 376.1,62.6 376.6,63.1 377.1,63.3 377.6,63.4 378.1,63.2 378.6,62.9 379.1,62.4 379.6,61.7 380.1,60.9 380.6,60.0 381.1,59.0 381.6,58.1 382.1,57.2 382.6,56.3 383.1,55.6 383.6,55.0 384.1,54.6 384.6,54.4 385.1,54.4 385.6,54.6 386.1,55.0 386.6,55.6 387.0,56.3 387.5,57.1 388.0,58.0 388.5,59.0 389.0,59.9 389.5,60.8 390.0,61.6 390.5,62.3 391.0,62.9 391.5,63.2 392.0,63.4 392.5,63.4 393.0,63.1 393.5,62.7 394.0,62.1 394.5,61.3 395.0,60.5 395.5,59.6 396.0,58.6 396.5,57.7 397.0,56.8 397.5,56.0 398.0,55.3 398.5,54.8 399.0,54.5 399.5,54.4 400.0,54.5 400.5,54.8 401.0,55.2 401.5,55.9 402.0,56.7 402.5,57.5 403.0,58.5 403.5,59.4 404.0,60.4 404.5,61.2 405.0,62.0 405.5,62.6 406.0,63.1 406.5,63.3 407.0,63.4 407.5,63.3 408.0,62.9 408.5,62.4 409.0,61.8 409.5,61.0 410.0,60.1 410.5,59.1 411.0,58.2 411.5,57.2 412.0,56.4" fill="none" stroke="#e4525f" stroke-width="0.85" stroke-linejoin="round" opacity="1"/>
<polyline points="364.4,55.5 364.9,55.0 365.4,54.7 365.9,54.6 366.4,54.7 366.9,55.0 367.4,55.5 367.9,56.1 368.4,56.9 368.9,57.8 369.4,58.7 369.9,59.7 370.3,60.6 370.8,61.4 371.3,62.2 371.8,62.8 372.3,63.3 372.8,63.5 373.3,63.6 373.8,63.5 374.3,63.1 374.8,62.6 375.3,62.0 375.8,61.2 376.3,60.3 376.8,59.4 377.3,58.4 377.8,57.5 378.3,56.7 378.8,55.9 379.3,55.3 379.8,54.9 380.3,54.7 380.8,54.6 381.3,54.8 381.8,55.1 382.2,55.6 382.7,56.3 383.2,57.1 383.7,58.0 384.2,59.0 384.7,59.9 385.2,60.8 385.7,61.7 386.2,62.4 386.7,62.9 387.2,63.4 387.7,63.6 388.2,63.6 388.7,63.4 389.2,63.0 389.7,62.5 390.2,61.8 390.7,61.0 391.2,60.1 391.7,59.1 392.2,58.2 392.7,57.3 393.2,56.4 393.7,55.7 394.1,55.2 394.6,54.8 395.1,54.6 395.6,54.6 396.1,54.8 396.6,55.2 397.1,55.8 397.6,56.5 398.1,57.4 398.6,58.3 399.1,59.2 399.6,60.2 400.1,61.1 400.6,61.9 401.1,62.5 401.6,63.1 402.1,63.4 402.6,63.6 403.1,63.6 403.6,63.3 404.1,62.9 404.6,62.3 405.1,61.6 405.6,60.7 406.1,59.8 406.5,58.8 407.0,57.9 407.5,57.0 408.0,56.2 408.5,55.6 409.0,55.1 409.5,54.7 410.0,54.6 410.5,54.7 411.0,54.9 411.5,55.4 412.0,56.0" fill="none" stroke="#6f76bd" stroke-width="0.85" stroke-linejoin="round" opacity="0.85"/>
<polyline points="364.4,62.5 364.9,61.8 365.4,61.0 365.9,60.1 366.4,59.1 366.9,58.2 367.4,57.3 367.9,56.5 368.4,55.7 368.9,55.2 369.4,54.8 369.9,54.6 370.3,54.6 370.8,54.8 371.3,55.2 371.8,55.8 372.3,56.5 372.8,57.4 373.3,58.3 373.8,59.2 374.3,60.1 374.8,61.0 375.3,61.9 375.8,62.5 376.3,63.1 376.8,63.4 377.3,63.6 377.8,63.6 378.3,63.3 378.8,62.9 379.3,62.3 379.8,61.6 380.3,60.7 380.8,59.8 381.3,58.9 381.8,57.9 382.2,57.0 382.7,56.2 383.2,55.6 383.7,55.1 384.2,54.7 384.7,54.6 385.2,54.7 385.7,54.9 386.2,55.4 386.7,56.0 387.2,56.7 387.7,57.6 388.2,58.5 388.7,59.5 389.2,60.4 389.7,61.3 390.2,62.1 390.7,62.7 391.2,63.2 391.7,63.5 392.2,63.6 392.7,63.5 393.2,63.2 393.7,62.8 394.1,62.1 394.6,61.4 395.1,60.5 395.6,59.6 396.1,58.6 396.6,57.7 397.1,56.8 397.6,56.1 398.1,55.4 398.6,55.0 399.1,54.7 399.6,54.6 400.1,54.7 400.6,55.0 401.1,55.5 401.6,56.2 402.1,57.0 402.6,57.8 403.1,58.8 403.6,59.7 404.1,60.6 404.6,61.5 405.1,62.2 405.6,62.8 406.1,63.3 406.5,63.5 407.0,63.6 407.5,63.4 408.0,63.1 408.5,62.6 409.0,61.9 409.5,61.1 410.0,60.2 410.5,59.3 411.0,58.3 411.5,57.4 412.0,56.6" fill="none" stroke="#e4525f" stroke-width="0.85" stroke-linejoin="round" opacity="1"/>
<path d="M353.3,44.7 Q354.0,45.0 354.3,45.7 Q355.2,46.5 355.4,47.7 Q356.6,47.8 357.5,48.6 Q358.5,49.0 359.1,49.9 Q359.8,50.8 359.8,51.9 Q360.7,52.3 361.2,53.2 Q362.2,53.4 362.8,54.2 Q363.7,54.9 363.9,56.1 Q364.9,56.7 365.3,57.7 Q366.0,59.2 365.6,60.7 Q365.6,61.8 365.0,62.7 Q364.8,64.0 363.9,65.0 Q363.8,66.3 362.8,67.3 Q362.7,68.6 361.9,69.6 Q361.1,70.6 359.8,70.9 Q358.6,71.1 357.5,70.5 Q356.5,70.1 356.1,69.2 Q355.3,68.9 355.0,68.2 Q353.9,68.8 352.6,68.5 Q351.4,68.8 350.3,68.2 Q349.1,68.1 348.2,67.3 Q347.4,66.1 347.5,64.6 Q346.5,63.5 346.5,62.1 Q345.9,60.8 346.2,59.4 Q346.3,58.6 346.8,58.1 Q347.5,57.1 348.6,56.8 Q348.7,55.7 349.5,54.9 Q348.7,53.6 348.9,52.2 Q348.5,51.6 348.6,51.0 Q349.2,50.1 350.3,49.9 Q350.7,48.9 351.7,48.3 Q351.5,47.3 352.0,46.4 Q352.1,45.6 352.6,45.0 Q352.9,44.7 353.3,44.7Z" fill="#4db749" stroke="#4db749" stroke-width="0.6" stroke-linejoin="round"/>
<path d="M385.4,28.4 Q385.7,28.6 385.9,28.9 Q386.3,29.3 386.4,29.8 Q387.0,29.9 387.4,30.3 Q387.9,30.4 388.2,30.9 Q388.6,31.3 388.6,31.8 Q389.0,32.0 389.2,32.5 Q389.7,32.5 390.0,32.9 Q390.5,33.3 390.6,33.8 Q391.0,34.1 391.2,34.6 Q391.6,35.3 391.4,36.0 Q391.4,36.6 391.1,37.0 Q391.0,37.6 390.6,38.1 Q390.5,38.7 390.0,39.2 Q390.0,39.8 389.6,40.3 Q389.2,40.8 388.6,40.9 Q388.0,41.0 387.4,40.7 Q387.0,40.5 386.7,40.1 Q386.4,40.0 386.2,39.6 Q385.7,39.9 385.0,39.8 Q384.4,39.9 383.9,39.6 Q383.3,39.6 382.9,39.2 Q382.5,38.6 382.5,37.9 Q382.1,37.4 382.1,36.7 Q381.8,36.1 381.9,35.4 Q381.9,35.0 382.2,34.8 Q382.5,34.3 383.1,34.2 Q383.1,33.6 383.5,33.2 Q383.1,32.7 383.2,32.0 Q383.0,31.7 383.1,31.4 Q383.4,31.0 383.9,30.9 Q384.1,30.4 384.6,30.1 Q384.5,29.6 384.7,29.2 Q384.8,28.8 385.0,28.5 Q385.2,28.4 385.4,28.4Z" fill="#4db749" stroke="#4db749" stroke-width="0.6" stroke-linejoin="round"/>
<line x1="317.50" y1="38.30" x2="317.50" y2="82.60" stroke="#a08878" stroke-width="0.8" stroke-dasharray="1.1 1.3"/>
<line x1="355.80" y1="37.20" x2="355.80" y2="82.90" stroke="#a08878" stroke-width="0.8" stroke-dasharray="1.1 1.3"/>
<line x1="327.30" y1="42.90" x2="337.50" y2="42.90" stroke="#4db848" stroke-width="2.8" />
<path d="M349.2,42.8 L335.2,35 L337.6,42.8 L335.2,50.7Z" fill="#4db848"/>
<path d="M289.6,40.9 L289.6,46.3 C291,47.5 295.6,42.5 295.6,44.2 C295.5,46.5 292.8,49 293.3,51.6" fill="none" stroke="#1a1a1a" stroke-width="0.95" stroke-dasharray="1.3 0.9"/>
<path d="M300.7,53.3 L295.3,49.3 L296.4,52.6 L294.3,55.7Z" fill="#0a0a0a"/>
<path d="M366.4,49.6 L371.1,46.3 C372.5,44.5 368.5,40 368.1,39.2 C369.5,38.5 371.5,41 372.5,44.2 C373,46.5 373.2,47.5 373.8,47.6 C375.5,47 377,45.5 377.5,44.2" fill="none" stroke="#1a1a1a" stroke-width="0.95" stroke-dasharray="1.3 0.9"/>
<path d="M378.1,36.5 L381.9,43.6 L378.2,42.0 L374.5,42.9Z" fill="#0a0a0a"/>
<circle cx="361.4" cy="24.8" r="0.7" fill="#5dbb4c"/>
<text x="266.2" y="45.4" font-size="10.2" fill="#222">t<tspan font-size="5.6" dy="2.8">n-2</tspan></text>
<text x="314.7" y="93.8" font-size="10.2" fill="#222">t<tspan font-size="5.6" dy="2.8">n-1</tspan></text>
<text x="336.4" y="93.8" font-size="10.2" fill="#222">t<tspan font-size="5.6" dy="2.8">n</tspan></text>
<text x="352.2" y="93.8" font-size="10.2" fill="#222">t<tspan font-size="5.6" dy="2.8">n+1</tspan></text>
<text x="399.6" y="47" font-size="10.2" fill="#222">t<tspan font-size="5.6" dy="2.8">n+2</tspan></text>
<rect x="312.70" y="102.40" width="37.00" height="103.70" fill="#dcdee0" />
<polyline points="254.5,153.6 259.3,174.2 264.4,190.7 268.6,201.0 273.1,193.8 277.8,198.6 283.0,191.8 287.1,189.1 292.3,193.2 296.4,190.7 300.5,194.4 304.6,200.0 309.8,198.6 312.9,178.4 318.0,147.4 323.2,129.9 331.3,107.2 336.5,130.9 341.6,153.6 346.8,172.2 350.9,190.7 354.0,193.8 358.1,165.0 362.3,168.0 367.4,177.3 371.5,142.3 376.1,143.3 380.8,169.1 386.0,170.1 390.1,182.5 393.8,183.5 399.0,146.4" fill="none" stroke="#c6c6c6" stroke-width="0.8" stroke-linejoin="round" />
<polyline points="254.9,118.2 256.3,115.0 258.2,127.1 259.6,116.8 261.0,123.4 262.4,116.4 264.3,121.5 265.7,118.7 267.6,121.5 269.0,118.7 270.8,125.2 272.7,115.0 274.1,122.0 275.5,114.0 277.4,107.5 278.8,112.1 280.2,116.4 281.6,123.8 283.0,116.8 284.4,123.4 286.2,129.9 288.1,119.6 290.0,121.5 291.4,123.4 293.3,125.2 295.1,116.8 296.5,120.6 297.9,117.3 299.8,119.6 301.2,115.4 302.6,121.0 304.5,114.5 306.3,121.5 308.2,116.8 310.1,122.4 311.5,118.7 312.4,111.7 314.0,125.0 316.0,140.0 318.5,155.0 321.0,168.0 323.5,182.0 325.8,198.0 328.0,186.0 330.4,181.7 333.0,199.4 336.3,187.6 340.2,192.9 344.2,186.3 348.1,190.2 351.4,196.8 354.0,190.2 356.0,194.2 359.3,189.6 361.9,196.1 363.9,183.0 365.8,199.4 368.5,190.2 370.4,192.9 373.1,186.3 375.0,183.0 377.0,194.2 379.0,186.3 381.0,198.1 383.6,188.9 386.2,183.7 388.2,182.3 390.2,194.2 392.8,186.3 395.4,191.5 398.0,188.9" fill="none" stroke="#c8e7bd" stroke-width="0.6" stroke-linejoin="round" />
<polyline points="254.2,118.1 313.3,118.1 328.2,189.3 399.3,188.7" fill="none" stroke="#66c055" stroke-width="1.4" stroke-linejoin="round" />
<line x1="254.20" y1="168.40" x2="399.30" y2="168.40" stroke="#2b4fa3" stroke-width="1" stroke-dasharray="2.6 1.6"/>
<rect x="254.2" y="102.4" width="145.10000000000002" height="103.69999999999999" fill="none" stroke="#2e2e2e" stroke-width="1.1"/>
<line x1="252.40" y1="111.20" x2="254.20" y2="111.20" stroke="#666" stroke-width="0.8" />
<text x="250.30" y="113.55" font-size="6.6" fill="#6cc05c" text-anchor="end" font-weight="bold" textLength="14.2" lengthAdjust="spacingAndGlyphs" >7860</text>
<line x1="252.40" y1="134.85" x2="254.20" y2="134.85" stroke="#666" stroke-width="0.8" />
<text x="250.30" y="137.20" font-size="6.6" fill="#6cc05c" text-anchor="end" font-weight="bold" textLength="14.2" lengthAdjust="spacingAndGlyphs" >7820</text>
<line x1="252.40" y1="158.50" x2="254.20" y2="158.50" stroke="#666" stroke-width="0.8" />
<text x="250.30" y="160.85" font-size="6.6" fill="#6cc05c" text-anchor="end" font-weight="bold" textLength="14.2" lengthAdjust="spacingAndGlyphs" >7780</text>
<line x1="252.40" y1="182.15" x2="254.20" y2="182.15" stroke="#666" stroke-width="0.8" />
<text x="250.30" y="184.50" font-size="6.6" fill="#6cc05c" text-anchor="end" font-weight="bold" textLength="14.2" lengthAdjust="spacingAndGlyphs" >7740</text>
<line x1="252.40" y1="205.80" x2="254.20" y2="205.80" stroke="#666" stroke-width="0.8" />
<text x="250.30" y="208.15" font-size="6.6" fill="#6cc05c" text-anchor="end" font-weight="bold" textLength="14.2" lengthAdjust="spacingAndGlyphs" >7700</text>
<line x1="399.30" y1="118.90" x2="401.30" y2="118.90" stroke="#2e2e2e" stroke-width="0.8" />
<text x="403.60" y="121.25" font-size="6.6" fill="#222" text-anchor="start" font-weight="normal" textLength="7.8" lengthAdjust="spacingAndGlyphs" >22</text>
<line x1="399.30" y1="139.55" x2="401.30" y2="139.55" stroke="#2e2e2e" stroke-width="0.8" />
<text x="403.60" y="141.90" font-size="6.6" fill="#222" text-anchor="start" font-weight="normal" textLength="7.8" lengthAdjust="spacingAndGlyphs" >20</text>
<line x1="399.30" y1="160.20" x2="401.30" y2="160.20" stroke="#2e2e2e" stroke-width="0.8" />
<text x="403.60" y="162.55" font-size="6.6" fill="#222" text-anchor="start" font-weight="normal" textLength="7.8" lengthAdjust="spacingAndGlyphs" >18</text>
<line x1="399.30" y1="180.85" x2="401.30" y2="180.85" stroke="#2e2e2e" stroke-width="0.8" />
<text x="403.60" y="183.20" font-size="6.6" fill="#222" text-anchor="start" font-weight="normal" textLength="7.8" lengthAdjust="spacingAndGlyphs" >16</text>
<line x1="399.30" y1="201.50" x2="401.30" y2="201.50" stroke="#2e2e2e" stroke-width="0.8" />
<text x="403.60" y="203.85" font-size="6.6" fill="#222" text-anchor="start" font-weight="normal" textLength="7.8" lengthAdjust="spacingAndGlyphs" >14</text>
<line x1="268.40" y1="206.10" x2="268.40" y2="207.90" stroke="#2e2e2e" stroke-width="0.8" />
<text x="268.40" y="215.80" font-size="6.6" fill="#222" text-anchor="middle" font-weight="normal" textLength="7.6" lengthAdjust="spacingAndGlyphs" >57</text>
<line x1="300.45" y1="206.10" x2="300.45" y2="207.90" stroke="#2e2e2e" stroke-width="0.8" />
<text x="300.45" y="215.80" font-size="6.6" fill="#222" text-anchor="middle" font-weight="normal" textLength="7.6" lengthAdjust="spacingAndGlyphs" >58</text>
<line x1="332.50" y1="206.10" x2="332.50" y2="207.90" stroke="#2e2e2e" stroke-width="0.8" />
<text x="332.50" y="215.80" font-size="6.6" fill="#222" text-anchor="middle" font-weight="normal" textLength="7.6" lengthAdjust="spacingAndGlyphs" >59</text>
<line x1="364.55" y1="206.10" x2="364.55" y2="207.90" stroke="#2e2e2e" stroke-width="0.8" />
<text x="364.55" y="215.80" font-size="6.6" fill="#222" text-anchor="middle" font-weight="normal" textLength="7.6" lengthAdjust="spacingAndGlyphs" >60</text>
<line x1="396.60" y1="206.10" x2="396.60" y2="207.90" stroke="#2e2e2e" stroke-width="0.8" />
<text x="396.60" y="215.80" font-size="6.6" fill="#222" text-anchor="middle" font-weight="normal" textLength="7.6" lengthAdjust="spacingAndGlyphs" >61</text>
<text x="337.20" y="226.80" font-size="10.5" fill="#111" text-anchor="middle" font-weight="normal" textLength="38.2" lengthAdjust="spacingAndGlyphs" >Time (s)</text>
<text transform="translate(233,152.1) rotate(-90)" font-size="10.7" fill="#6cc05c" text-anchor="middle">Basepairs</text>
<text transform="translate(424.2,153) rotate(-90)" font-size="9.6" fill="#111" text-anchor="middle">Fluorescence Intensity (a.u.)</text>
<rect x="307.30" y="237.80" width="36.60" height="16.90" fill="#d3d6d6" />
<text x="282.70" y="250.80" font-size="14" fill="#111" text-anchor="middle" font-weight="normal" >P</text>
<line x1="290.40" y1="245.90" x2="300.30" y2="245.90" stroke="#111" stroke-width="1.2" />
<path d="M305.0,245.9 L299.5,242.9 L300.5,245.9 L299.5,248.9Z" fill="#111"/>
<text x="313.60" y="250.80" font-size="14" fill="#222" text-anchor="middle" font-weight="bold" >E</text>
<line x1="319.80" y1="245.90" x2="326.60" y2="245.90" stroke="#111" stroke-width="1.2" />
<path d="M331.3,245.9 L325.8,242.9 L326.8,245.9 L325.8,248.9Z" fill="#111"/>
<text x="338.00" y="250.80" font-size="14" fill="#222" text-anchor="middle" font-weight="bold" >P</text>
<line x1="346.30" y1="245.90" x2="356.00" y2="245.90" stroke="#111" stroke-width="1.2" />
<path d="M360.7,245.9 L355.2,242.9 L356.2,245.9 L355.2,248.9Z" fill="#111"/>
<text x="365.90" y="250.80" font-size="14" fill="#111" text-anchor="middle" font-weight="normal" >P</text>
<line x1="516.50" y1="11.20" x2="516.50" y2="85.40" stroke="#4a4a4a" stroke-width="1" />
<line x1="516.50" y1="97.50" x2="516.50" y2="171.40" stroke="#4a4a4a" stroke-width="1" />
<line x1="512.70" y1="82.40" x2="519.30" y2="88.90" stroke="#4a4a4a" stroke-width="1" />
<line x1="512.70" y1="93.50" x2="519.70" y2="100.40" stroke="#4a4a4a" stroke-width="1" />
<line x1="509.50" y1="11.20" x2="516.50" y2="11.20" stroke="#4a4a4a" stroke-width="1" />
<text x="508.20" y="14.70" font-size="9.8" fill="#333" text-anchor="end" font-weight="normal" textLength="15.6" lengthAdjust="spacingAndGlyphs" >200</text>
<line x1="509.50" y1="48.30" x2="516.50" y2="48.30" stroke="#4a4a4a" stroke-width="1" />
<text x="508.20" y="51.80" font-size="9.8" fill="#333" text-anchor="end" font-weight="normal" textLength="15.6" lengthAdjust="spacingAndGlyphs" >150</text>
<text x="508.20" y="88.90" font-size="9.8" fill="#333" text-anchor="end" font-weight="normal" textLength="15.6" lengthAdjust="spacingAndGlyphs" >100</text>
<text x="508.20" y="100.70" font-size="9.8" fill="#333" text-anchor="end" font-weight="normal" textLength="10.4" lengthAdjust="spacingAndGlyphs" >20</text>
<line x1="509.50" y1="134.30" x2="516.50" y2="134.30" stroke="#4a4a4a" stroke-width="1" />
<text x="508.20" y="137.80" font-size="9.8" fill="#333" text-anchor="end" font-weight="normal" textLength="10.4" lengthAdjust="spacingAndGlyphs" >10</text>
<line x1="509.50" y1="171.40" x2="516.50" y2="171.40" stroke="#4a4a4a" stroke-width="1" />
<text x="508.20" y="174.90" font-size="9.8" fill="#333" text-anchor="end" font-weight="normal" textLength="5.2" lengthAdjust="spacingAndGlyphs" >0</text>
<line x1="516.50" y1="171.40" x2="677.00" y2="171.40" stroke="#3a3a3a" stroke-width="1" />
<rect x="538.90" y="38.90" width="46.00" height="46.50" fill="#63b0dc" />
<rect x="538.90" y="97.20" width="46.00" height="74.20" fill="#63b0dc" />
<rect x="607.70" y="119.70" width="45.30" height="51.70" fill="#32b485" />
<line x1="561.80" y1="29.40" x2="561.80" y2="48.30" stroke="#000" stroke-opacity="0.72" stroke-width="1" />
<line x1="550.50" y1="29.40" x2="573.00" y2="29.40" stroke="#000" stroke-opacity="0.72" stroke-width="1" />
<line x1="550.50" y1="48.30" x2="573.00" y2="48.30" stroke="#000" stroke-opacity="0.72" stroke-width="1" />
<line x1="630.40" y1="105.30" x2="630.40" y2="133.30" stroke="#000" stroke-opacity="0.72" stroke-width="1" />
<line x1="619.00" y1="105.30" x2="642.00" y2="105.30" stroke="#000" stroke-opacity="0.72" stroke-width="1" />
<line x1="619.00" y1="133.30" x2="642.00" y2="133.30" stroke="#000" stroke-opacity="0.72" stroke-width="1" />
<line x1="561.80" y1="171.40" x2="561.80" y2="177.40" stroke="#4a4a4a" stroke-width="1" />
<line x1="630.50" y1="171.40" x2="630.50" y2="177.40" stroke="#4a4a4a" stroke-width="1" />
<text x="563.75" y="22.00" font-size="9.5" fill="#222" text-anchor="middle" font-weight="normal" textLength="62.6" lengthAdjust="spacingAndGlyphs" >n = 163, ~90%</text>
<text x="633.85" y="95.40" font-size="9.5" fill="#222" text-anchor="middle" font-weight="normal" textLength="57.4" lengthAdjust="spacingAndGlyphs" >n = 14, ~10%</text>
<text x="642.60" y="37.30" font-size="13.9" fill="#3ba4db" text-anchor="middle" font-weight="bold" >Exo</text>
<text transform="translate(484,85.9) rotate(-90)" font-size="11" fill="#111" text-anchor="middle">Counts</text>
<text transform="translate(534.40,210.30) rotate(-27.5)" font-size="11" font-weight="normal" text-anchor="middle" fill="#222">Single-type Burst Events</text>
<text transform="translate(588.50,217.60) rotate(-27.5)" font-size="11" font-weight="normal" text-anchor="middle" fill="#222">Transitional-type Burst Events</text>
<line x1="43.90" y1="285.00" x2="43.90" y2="391.00" stroke="#8a8a8a" stroke-width="1" />
<line x1="43.90" y1="403.00" x2="43.90" y2="449.00" stroke="#8a8a8a" stroke-width="1" />
<line x1="40.40" y1="387.60" x2="47.90" y2="395.00" stroke="#555" stroke-width="1" />
<line x1="40.40" y1="399.60" x2="47.90" y2="407.00" stroke="#555" stroke-width="1" />
<line x1="37.40" y1="285.00" x2="43.90" y2="285.00" stroke="#666" stroke-width="1" />
<text x="35.30" y="288.50" font-size="9.8" fill="#333" text-anchor="end" font-weight="normal" textLength="15.8" lengthAdjust="spacingAndGlyphs" >250</text>
<line x1="37.40" y1="328.00" x2="43.90" y2="328.00" stroke="#666" stroke-width="1" />
<text x="35.30" y="331.50" font-size="9.8" fill="#333" text-anchor="end" font-weight="normal" textLength="15.8" lengthAdjust="spacingAndGlyphs" >200</text>
<line x1="37.40" y1="371.00" x2="43.90" y2="371.00" stroke="#666" stroke-width="1" />
<text x="35.30" y="374.50" font-size="9.8" fill="#333" text-anchor="end" font-weight="normal" textLength="15.8" lengthAdjust="spacingAndGlyphs" >150</text>
<line x1="37.40" y1="418.70" x2="43.90" y2="418.70" stroke="#666" stroke-width="1" />
<text x="35.30" y="422.20" font-size="9.8" fill="#333" text-anchor="end" font-weight="normal" textLength="10.5" lengthAdjust="spacingAndGlyphs" >10</text>
<line x1="37.40" y1="449.00" x2="43.90" y2="449.00" stroke="#666" stroke-width="1" />
<text x="35.30" y="452.50" font-size="9.8" fill="#333" text-anchor="end" font-weight="normal" textLength="5.2" lengthAdjust="spacingAndGlyphs" >0</text>
<rect x="67.00" y="328.90" width="46.90" height="62.30" fill="#63b0dc" />
<rect x="67.00" y="403.60" width="46.90" height="45.40" fill="#63b0dc" />
<rect x="137.00" y="439.80" width="46.90" height="9.20" fill="#32b485" />
<line x1="43.90" y1="449.00" x2="208.00" y2="449.00" stroke="#a8a8a8" stroke-width="1.3" />
<line x1="90.80" y1="316.40" x2="90.80" y2="340.50" stroke="#000" stroke-opacity="0.72" stroke-width="1" />
<line x1="79.00" y1="316.40" x2="102.00" y2="316.40" stroke="#000" stroke-opacity="0.72" stroke-width="1" />
<line x1="79.00" y1="340.50" x2="102.00" y2="340.50" stroke="#000" stroke-opacity="0.72" stroke-width="1" />
<line x1="160.60" y1="434.20" x2="160.60" y2="445.10" stroke="#000" stroke-opacity="0.72" stroke-width="1" />
<line x1="149.00" y1="434.20" x2="171.80" y2="434.20" stroke="#000" stroke-opacity="0.72" stroke-width="1" />
<line x1="149.00" y1="445.10" x2="171.80" y2="445.10" stroke="#000" stroke-opacity="0.72" stroke-width="1" />
<line x1="90.60" y1="449.00" x2="90.60" y2="455.30" stroke="#555" stroke-width="1" />
<line x1="160.60" y1="449.00" x2="160.60" y2="455.30" stroke="#555" stroke-width="1" />
<text x="91.00" y="306.80" font-size="9.5" fill="#222" text-anchor="middle" font-weight="normal" textLength="62.2" lengthAdjust="spacingAndGlyphs" >n = 199, ~98%</text>
<text x="168.60" y="428.30" font-size="9.5" fill="#222" text-anchor="middle" font-weight="normal" textLength="46.8" lengthAdjust="spacingAndGlyphs" >n = 3, ~2%</text>
<text x="171.80" y="317.10" font-size="13.7" fill="#26a874" text-anchor="middle" font-weight="bold" >Pol</text>
<text transform="translate(13.3,366) rotate(-90)" font-size="11" fill="#111" text-anchor="middle">Counts</text>
<text transform="translate(57.35,490.25) rotate(-27.5)" font-size="11" font-weight="normal" text-anchor="middle" fill="#222">Single-type Burst Events</text>
<text transform="translate(111.30,497.95) rotate(-27.5)" font-size="11" font-weight="normal" text-anchor="middle" fill="#222">Transitional-type Burst Events</text>
<line x1="271.70" y1="277.90" x2="271.70" y2="455.40" stroke="#7a7a7a" stroke-width="1" />
<line x1="264.70" y1="278.50" x2="271.70" y2="278.50" stroke="#7a7a7a" stroke-width="1" />
<text x="261.60" y="282.00" font-size="9.8" fill="#333" text-anchor="end" font-weight="normal" textLength="14.2" lengthAdjust="spacingAndGlyphs" >2.0</text>
<line x1="264.70" y1="322.60" x2="271.70" y2="322.60" stroke="#7a7a7a" stroke-width="1" />
<text x="261.60" y="326.10" font-size="9.8" fill="#333" text-anchor="end" font-weight="normal" textLength="14.2" lengthAdjust="spacingAndGlyphs" >1.5</text>
<line x1="264.70" y1="366.70" x2="271.70" y2="366.70" stroke="#7a7a7a" stroke-width="1" />
<text x="261.60" y="370.20" font-size="9.8" fill="#333" text-anchor="end" font-weight="normal" textLength="14.2" lengthAdjust="spacingAndGlyphs" >1.0</text>
<line x1="264.70" y1="410.80" x2="271.70" y2="410.80" stroke="#7a7a7a" stroke-width="1" />
<text x="261.60" y="414.30" font-size="9.8" fill="#333" text-anchor="end" font-weight="normal" textLength="14.2" lengthAdjust="spacingAndGlyphs" >0.5</text>
<line x1="264.70" y1="454.90" x2="271.70" y2="454.90" stroke="#7a7a7a" stroke-width="1" />
<text x="261.60" y="458.40" font-size="9.8" fill="#333" text-anchor="end" font-weight="normal" textLength="14.2" lengthAdjust="spacingAndGlyphs" >0.0</text>
<line x1="271.70" y1="455.40" x2="449.50" y2="455.40" stroke="#6a6a6a" stroke-width="1" />
<rect x="296.90" y="336.40" width="50.10" height="119.00" fill="#63b0dc" />
<rect x="372.60" y="348.30" width="50.90" height="107.10" fill="#32b485" />
<line x1="321.70" y1="329.20" x2="321.70" y2="343.40" stroke="#000" stroke-opacity="0.72" stroke-width="1" />
<line x1="309.30" y1="329.20" x2="334.10" y2="329.20" stroke="#000" stroke-opacity="0.72" stroke-width="1" />
<line x1="309.30" y1="343.40" x2="334.10" y2="343.40" stroke="#000" stroke-opacity="0.72" stroke-width="1" />
<line x1="397.90" y1="342.60" x2="397.90" y2="353.30" stroke="#000" stroke-opacity="0.72" stroke-width="1" />
<line x1="385.50" y1="342.60" x2="410.30" y2="342.60" stroke="#000" stroke-opacity="0.72" stroke-width="1" />
<line x1="385.50" y1="353.30" x2="410.30" y2="353.30" stroke="#000" stroke-opacity="0.72" stroke-width="1" />
<line x1="321.70" y1="455.40" x2="321.70" y2="461.40" stroke="#7a7a7a" stroke-width="1" />
<line x1="398.10" y1="455.40" x2="398.10" y2="461.40" stroke="#7a7a7a" stroke-width="1" />
<text x="326.35" y="311.20" font-size="10.3" fill="#111" text-anchor="middle" font-weight="normal" textLength="78.2" lengthAdjust="spacingAndGlyphs" >t = 1.34 ± 0.06 s</text>
<text x="406.60" y="327.70" font-size="10.3" fill="#111" text-anchor="middle" font-weight="normal" textLength="78.2" lengthAdjust="spacingAndGlyphs" >t = 1.11 ± 0.08 s</text>
<text transform="translate(237.3,367.4) rotate(-90)" font-size="10.7" fill="#111" text-anchor="middle">Binding Lifetime (s)</text>
<text transform="translate(311.55,485.70) rotate(-27.5)" font-size="11" font-weight="normal" text-anchor="middle" fill="#222">Exo Events</text>
<text transform="translate(384.70,486.00) rotate(-27.5)" font-size="11" font-weight="normal" text-anchor="middle" fill="#222">Pol Events</text>
<rect x="519.10" y="312.59" width="70.40" height="53.79" fill="#63b0dc" />
<rect x="606.20" y="345.32" width="70.50" height="17.93" fill="#32b485" />
<line x1="554.30" y1="289.20" x2="554.30" y2="312.59" stroke="#555" stroke-width="0.9" />
<line x1="554.30" y1="366.37" x2="554.30" y2="406.12" stroke="#555" stroke-width="0.9" />
<line x1="536.50" y1="289.20" x2="571.70" y2="289.20" stroke="#909090" stroke-width="1" />
<line x1="536.50" y1="406.12" x2="571.70" y2="406.12" stroke="#909090" stroke-width="1" />
<line x1="519.10" y1="341.11" x2="589.50" y2="341.11" stroke="#7d7d7d" stroke-width="1" />
<line x1="641.20" y1="328.18" x2="641.20" y2="345.32" stroke="#555" stroke-width="0.9" />
<line x1="641.20" y1="363.25" x2="641.20" y2="382.74" stroke="#555" stroke-width="0.9" />
<line x1="623.40" y1="328.18" x2="659.00" y2="328.18" stroke="#909090" stroke-width="1" />
<line x1="623.40" y1="382.74" x2="659.00" y2="382.74" stroke="#909090" stroke-width="1" />
<line x1="606.20" y1="356.24" x2="676.70" y2="356.24" stroke="#7d7d7d" stroke-width="1" />
<circle cx="545.5" cy="289.2" r="1.05" fill="#111"/>
<circle cx="547.7" cy="289.2" r="1.05" fill="#111"/>
<circle cx="549.9" cy="289.2" r="1.05" fill="#111"/>
<circle cx="552.1" cy="289.2" r="1.05" fill="#111"/>
<circle cx="554.3" cy="289.2" r="1.05" fill="#111"/>
<circle cx="556.5" cy="289.2" r="1.05" fill="#111"/>
<circle cx="558.7" cy="289.2" r="1.05" fill="#111"/>
<circle cx="560.9" cy="289.2" r="1.05" fill="#111"/>
<circle cx="563.1" cy="289.2" r="1.05" fill="#111"/>
<circle cx="554.3" cy="314.1" r="1.05" fill="#111"/>
<circle cx="554.3" cy="315.7" r="1.05" fill="#111"/>
<circle cx="554.3" cy="320.4" r="1.05" fill="#111"/>
<circle cx="554.3" cy="325.1" r="1.05" fill="#111"/>
<circle cx="554.3" cy="334.4" r="1.05" fill="#111"/>
<circle cx="554.3" cy="336.0" r="1.05" fill="#111"/>
<circle cx="546.6" cy="341.1" r="1.05" fill="#111"/>
<circle cx="548.8" cy="341.1" r="1.05" fill="#111"/>
<circle cx="551.0" cy="341.1" r="1.05" fill="#111"/>
<circle cx="553.2" cy="341.1" r="1.05" fill="#111"/>
<circle cx="555.4" cy="341.1" r="1.05" fill="#111"/>
<circle cx="557.6" cy="341.1" r="1.05" fill="#111"/>
<circle cx="559.8" cy="341.1" r="1.05" fill="#111"/>
<circle cx="562.0" cy="341.1" r="1.05" fill="#111"/>
<circle cx="554.3" cy="351.6" r="1.05" fill="#111"/>
<circle cx="554.3" cy="356.2" r="1.05" fill="#111"/>
<circle cx="554.3" cy="361.7" r="1.05" fill="#111"/>
<circle cx="554.3" cy="363.3" r="1.05" fill="#111"/>
<circle cx="549.9" cy="367.2" r="1.05" fill="#111"/>
<circle cx="552.1" cy="367.2" r="1.05" fill="#111"/>
<circle cx="554.3" cy="367.2" r="1.05" fill="#111"/>
<circle cx="556.5" cy="367.2" r="1.05" fill="#111"/>
<circle cx="558.7" cy="367.2" r="1.05" fill="#111"/>
<circle cx="554.3" cy="371.8" r="1.05" fill="#111"/>
<circle cx="554.3" cy="374.2" r="1.05" fill="#111"/>
<circle cx="554.3" cy="374.9" r="1.05" fill="#111"/>
<circle cx="553.2" cy="406.1" r="1.05" fill="#111"/>
<circle cx="555.4" cy="406.1" r="1.05" fill="#111"/>
<circle cx="641.2" cy="289.1" r="1.05" fill="#111"/>
<circle cx="639.7" cy="327.8" r="1.05" fill="#111"/>
<circle cx="642.7" cy="327.8" r="1.05" fill="#111"/>
<circle cx="641.2" cy="334.2" r="1.05" fill="#111"/>
<circle cx="641.2" cy="336.0" r="1.05" fill="#111"/>
<circle cx="638.2" cy="341.0" r="1.05" fill="#111"/>
<circle cx="641.2" cy="341.0" r="1.05" fill="#111"/>
<circle cx="644.2" cy="341.0" r="1.05" fill="#111"/>
<circle cx="641.2" cy="344.7" r="1.05" fill="#111"/>
<circle cx="639.2" cy="347.7" r="1.05" fill="#111"/>
<circle cx="642.2" cy="347.2" r="1.05" fill="#111"/>
<circle cx="644.7" cy="346.7" r="1.05" fill="#111"/>
<circle cx="637.2" cy="350.0" r="1.05" fill="#111"/>
<circle cx="639.7" cy="350.5" r="1.05" fill="#111"/>
<circle cx="641.7" cy="351.8" r="1.05" fill="#111"/>
<circle cx="643.7" cy="351.5" r="1.05" fill="#111"/>
<circle cx="638.7" cy="355.2" r="1.05" fill="#111"/>
<circle cx="641.2" cy="355.0" r="1.05" fill="#111"/>
<circle cx="643.7" cy="354.7" r="1.05" fill="#111"/>
<circle cx="638.2" cy="357.0" r="1.05" fill="#111"/>
<circle cx="640.7" cy="356.7" r="1.05" fill="#111"/>
<circle cx="643.2" cy="356.5" r="1.05" fill="#111"/>
<circle cx="639.2" cy="359.7" r="1.05" fill="#111"/>
<circle cx="642.2" cy="359.5" r="1.05" fill="#111"/>
<circle cx="644.7" cy="359.0" r="1.05" fill="#111"/>
<circle cx="647.2" cy="358.5" r="1.05" fill="#111"/>
<circle cx="638.2" cy="361.5" r="1.05" fill="#111"/>
<circle cx="641.2" cy="362.5" r="1.05" fill="#111"/>
<circle cx="644.2" cy="361.5" r="1.05" fill="#111"/>
<circle cx="640.2" cy="364.2" r="1.05" fill="#111"/>
<circle cx="642.7" cy="364.2" r="1.05" fill="#111"/>
<circle cx="636.7" cy="367.2" r="1.05" fill="#111"/>
<circle cx="639.0" cy="367.2" r="1.05" fill="#111"/>
<circle cx="641.2" cy="367.2" r="1.05" fill="#111"/>
<circle cx="643.4" cy="367.2" r="1.05" fill="#111"/>
<circle cx="645.7" cy="367.2" r="1.05" fill="#111"/>
<circle cx="641.2" cy="383.0" r="1.05" fill="#111"/>
<circle cx="639.9" cy="393.5" r="1.05" fill="#111"/>
<circle cx="642.5" cy="393.5" r="1.05" fill="#111"/>
<rect x="510.4" y="281.5" width="173.89999999999998" height="163.60000000000002" fill="none" stroke="#505050" stroke-width="1"/>
<line x1="508.60" y1="289.20" x2="510.40" y2="289.20" stroke="#333" stroke-width="0.8" />
<text x="505.20" y="293.10" font-size="8.9" fill="#111" text-anchor="end" font-weight="normal" textLength="12.8" lengthAdjust="spacingAndGlyphs" >1.0</text>
<line x1="508.60" y1="320.38" x2="510.40" y2="320.38" stroke="#333" stroke-width="0.8" />
<text x="505.20" y="324.28" font-size="8.9" fill="#111" text-anchor="end" font-weight="normal" textLength="12.8" lengthAdjust="spacingAndGlyphs" >0.8</text>
<line x1="508.60" y1="351.56" x2="510.40" y2="351.56" stroke="#333" stroke-width="0.8" />
<text x="505.20" y="355.46" font-size="8.9" fill="#111" text-anchor="end" font-weight="normal" textLength="12.8" lengthAdjust="spacingAndGlyphs" >0.6</text>
<line x1="508.60" y1="382.74" x2="510.40" y2="382.74" stroke="#333" stroke-width="0.8" />
<text x="505.20" y="386.64" font-size="8.9" fill="#111" text-anchor="end" font-weight="normal" textLength="12.8" lengthAdjust="spacingAndGlyphs" >0.4</text>
<line x1="508.60" y1="413.92" x2="510.40" y2="413.92" stroke="#333" stroke-width="0.8" />
<text x="505.20" y="417.82" font-size="8.9" fill="#111" text-anchor="end" font-weight="normal" textLength="12.8" lengthAdjust="spacingAndGlyphs" >0.2</text>
<line x1="508.60" y1="445.10" x2="510.40" y2="445.10" stroke="#333" stroke-width="0.8" />
<text x="505.20" y="449.00" font-size="8.9" fill="#111" text-anchor="end" font-weight="normal" textLength="12.8" lengthAdjust="spacingAndGlyphs" >0.0</text>
<line x1="555.50" y1="445.10" x2="555.50" y2="449.60" stroke="#333" stroke-width="0.9" />
<line x1="641.40" y1="445.10" x2="641.40" y2="449.60" stroke="#333" stroke-width="0.9" />
<text x="552.50" y="273.00" font-size="12.5" fill="#111" text-anchor="middle" font-weight="normal" textLength="28.4" lengthAdjust="spacingAndGlyphs" >69 %</text>
<text x="646.30" y="273.40" font-size="12.5" fill="#111" text-anchor="middle" font-weight="normal" textLength="28.6" lengthAdjust="spacingAndGlyphs" >58 %</text>
<text x="545.60" y="442.20" font-size="9.7" fill="#111" text-anchor="middle" font-weight="normal" textLength="51.6" lengthAdjust="spacingAndGlyphs" >N = 34 DNA</text>
<text x="650.00" y="442.20" font-size="9.7" fill="#111" text-anchor="middle" font-weight="normal" textLength="52.0" lengthAdjust="spacingAndGlyphs" >N = 34 DNA</text>
<text transform="translate(474,366.4) rotate(-90)" font-size="10.85" fill="#111" text-anchor="middle">Ratio of Non-Fluorescent DNAp</text>
<text transform="translate(486.1,364.2) rotate(-90)" font-size="10.7" fill="#111" text-anchor="middle">Pausing Events</text>
<text transform="translate(541.45,478.00) rotate(-27.5)" font-size="11" font-weight="normal" text-anchor="middle" fill="#222">Exo Pausing Events</text>
<text transform="translate(620.65,482.15) rotate(-27.5)" font-size="11" font-weight="normal" text-anchor="middle" fill="#222">Pol Pausing Events</text>
</svg>
</body></html>
